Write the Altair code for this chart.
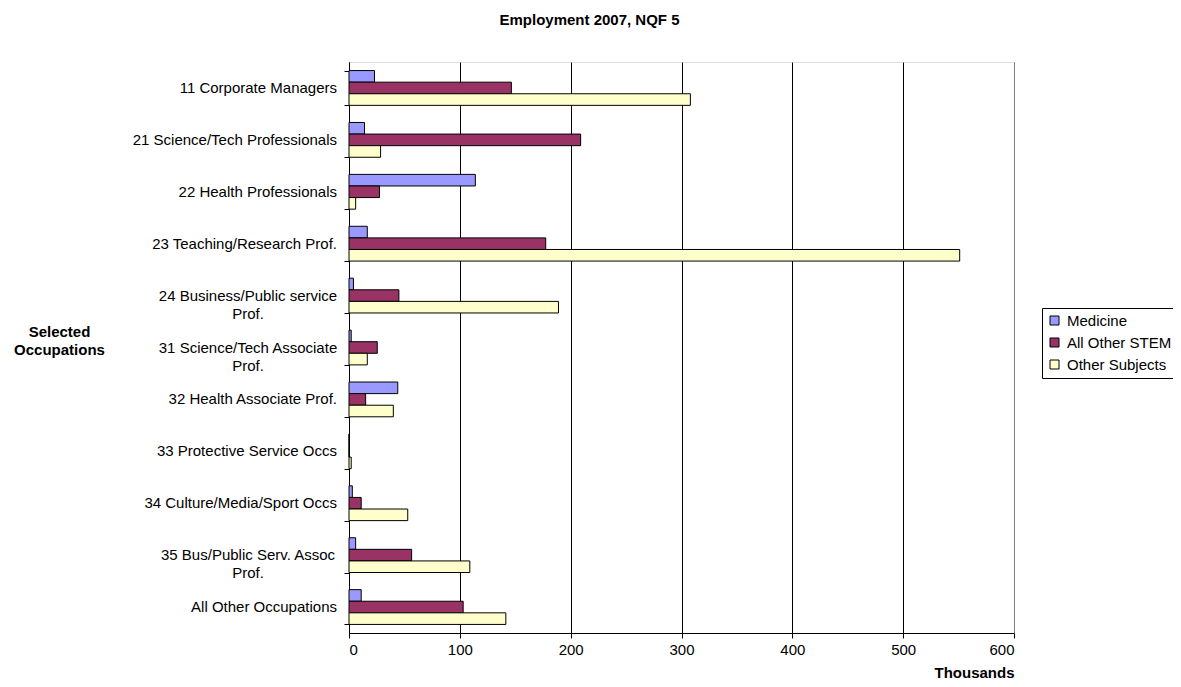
import altair as alt
import pandas as pd

categories = [
    "11 Corporate Managers",
    "21 Science/Tech Professionals",
    "22 Health Professionals",
    "23 Teaching/Research Prof.",
    "24 Business/Public service\nProf.",
    "31 Science/Tech Associate\nProf.",
    "32 Health Associate Prof.",
    "33 Protective Service Occs",
    "34 Culture/Media/Sport Occs",
    "35 Bus/Public Serv. Assoc\nProf.",
    "All Other Occupations",
]
series = ["Medicine", "All Other STEM", "Other Subjects"]
medicine = [23, 14, 114, 16.5, 4, 2, 44, 0, 3, 6, 11]
other_stem = [146.5, 209, 27.5, 177.5, 45, 25.5, 15, 0, 11, 56.5, 103]
other_subjects = [308, 28.5, 6, 551, 189, 16.5, 40, 2, 53, 109, 141.5]
x_ticks = [0, 100, 200, 300, 400, 500, 600]
colors = ["#9999FF", "#993366", "#FFFFCC"]

rows = []
for name, vals in zip(series, [medicine, other_stem, other_subjects]):
    for c, v in zip(categories, vals):
        rows.append({"cat": c, "series": name, "value": v})
df = pd.DataFrame(rows)
labels_df = pd.DataFrame({"cat": categories})

FONT = "Liberation Sans"
FS = 15

y_enc = alt.Y(
    "cat:N",
    sort=categories,
    scale=alt.Scale(paddingInner=0.33, paddingOuter=0.165),
    axis=alt.Axis(
        title=["Selected", "Occupations"],
        titleFont=FONT,
        titleFontSize=FS,
        titleFontWeight="bold",
        titleColor="black",
        titleAngle=0,
        titleAlign="center",
        titleBaseline="middle",
        titleX=-290,
        titleY=269,
        titleLineHeight=18,
        labels=False,
        domainColor="black",
        tickColor="black",
        tickSize=5,
        tickBand="extent",
        grid=False,
    ),
)

bars = alt.Chart(df).mark_bar(stroke="black", strokeWidth=1).encode(
    x=alt.X(
        "value:Q",
        scale=alt.Scale(domain=[0, 600], nice=False),
        axis=alt.Axis(
            values=x_ticks,
            title="Thousands",
            titleFont=FONT,
            titleFontSize=FS,
            titleFontWeight="bold",
            titleColor="black",
            titleAlign="right",
            titleX=665,
            titleY=39,
            titleBaseline="middle",
            labelFont=FONT,
            labelFontSize=FS,
            labelColor="black",
            labelPadding=4,
            domainColor="black",
            tickColor="black",
            tickSize=5,
            gridColor={"condition": {"test": "datum.value >= 600", "value": "#808080"}, "value": "black"},
            gridWidth=1,
            grid=True,
        ),
    ),
    y=y_enc,
    yOffset=alt.YOffset("series:N", sort=series, scale=alt.Scale(paddingInner=0, paddingOuter=0)),
    fill=alt.Fill(
        "series:N",
        sort=series,
        scale=alt.Scale(domain=series, range=colors),
        legend=alt.Legend(
            title=None,
            orient="none",
            legendX=693,
            legendY=246,
            symbolType="square",
            symbolSize=81,
            symbolStrokeColor="black",
            symbolStrokeWidth=1,
            labelFont=FONT,
            labelFontSize=FS,
            labelColor="black",
            labelOffset=5,
            rowPadding=6,
            padding=5,
            strokeColor="black",
            fillColor="white",
            labelLimit=300,
        ),
    ),
)

single = alt.Chart(labels_df).transform_filter(
    "indexof(datum.cat, '\\n') < 0"
).mark_text(align="right", baseline="middle", font=FONT, fontSize=FS, color="black").encode(
    y=alt.Y("cat:N", sort=categories),
    x=alt.value(-12),
    text="cat:N",
)

multi = alt.Chart(labels_df).transform_filter(
    "indexof(datum.cat, '\\n') >= 0"
).mark_text(align="center", baseline="middle", font=FONT, fontSize=FS, color="black",
            lineBreak="\n", lineHeight=18).encode(
    y=alt.Y("cat:N", sort=categories),
    x=alt.value(-101),
    text="cat:N",
)

chart = alt.layer(bars, single, multi).properties(
    width=665,
    height=571,
    title=alt.TitleParams(
        "Employment 2007, NQF 5",
        font=FONT,
        fontSize=FS,
        fontWeight="bold",
        color="black",
        anchor="middle",
        dx=-92,
        offset=34,
    ),
    autosize=alt.AutoSizeParams(type="none"),
    padding={"left": 341, "top": 54, "right": 159, "bottom": 46},
).configure_view(
    stroke="#808080", strokeWidth=1
).configure(background="white")

chart.save("out.html", embed_options={"renderer": "svg", "actions": False})
